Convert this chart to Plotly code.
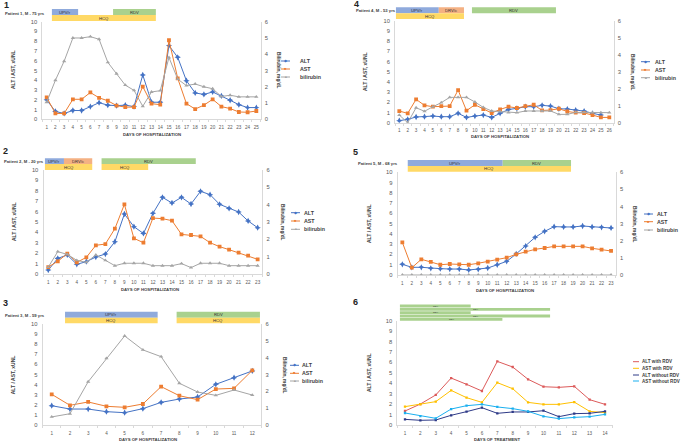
import plotly.graph_objects as go

W, H = 685, 445

# ---------------- data ----------------
series_names = ["ALT", "AST", "bilirubin"]

days1 = list(range(1, 26))
alt1 = [2.0, 0.8, 0.6, 0.9, 0.9, 1.3, 1.7, 1.45, 1.4, 1.45, 1.3, 4.55, 1.75, 1.75, 7.55,
        6.35, 3.95, 2.7, 2.55, 2.8, 2.4, 1.95, 1.5, 1.2, 1.2]
ast1 = [2.25, 0.6, 0.6, 2.05, 2.05, 2.75, 2.2, 1.9, 1.4, 1.25, 1.25, 3.35, 1.6, 1.5, 8.1,
        4.2, 1.6, 1.05, 1.45, 2.05, 1.3, 1.1, 0.75, 0.72, 0.85]
bili1 = [1.05, 2.4, 3.57, 5.0, 5.0, 5.08, 4.92, 3.5, 2.8, 2.1, 1.78, 0.8, 1.68, 1.76, 3.8,
         2.47, 2.07, 2.17, 2.0, 1.88, 1.4, 1.48, 1.38, 1.38, 1.38]
patient1 = "Patient 1, M - 75 yrs"
drug1 = ["UPV/r", "RDV", "HCQ"]
drug1_start = [1.6, 8.6, 1.6]
drug1_end = [4.6, 13.5, 13.5]

days2 = list(range(1, 24))
alt2 = [0.38, 1.5, 1.83, 0.93, 1.19, 1.63, 1.92, 3.1, 5.77, 4.55, 3.9, 5.83, 7.37, 6.83,
        7.37, 6.73, 7.95, 7.63, 6.7, 6.31, 5.96, 5.1, 4.45]
ast2 = [0.67, 1.22, 1.96, 1.12, 1.6, 2.76, 2.88, 4.36, 6.7, 3.43, 3.01, 5.38, 5.32, 5.13,
        3.81, 3.75, 3.62, 3.01, 2.63, 2.34, 2.05, 1.76, 1.41]
bili2 = [0.4, 1.29, 1.13, 0.79, 0.67, 1.1, 0.79, 0.48, 0.62, 0.62, 0.62, 0.48, 0.48, 0.48,
         0.6, 0.37, 0.62, 0.62, 0.62, 0.48, 0.48, 0.48, 0.48]
patient2 = "Patient 2, M - 20 yrs"
drug2 = ["UPV/r", "DRV/c", "RDV", "HCQ", "HCQ"]
drug2_start = [0.65, 2.65, 6.6, 0.65, 6.6]
drug2_end = [2.65, 5.62, 16.5, 5.62, 11.5]

days3 = list(range(1, 13))
alt3 = [1.91, 1.58, 1.58, 1.32, 1.22, 1.62, 2.24, 2.57, 2.77, 4.03, 4.69, 5.35]
ast3 = [3.04, 1.95, 2.28, 1.85, 1.75, 2.08, 3.8, 2.9, 2.51, 3.56, 3.63, 5.41]
bili3 = [0.48, 0.67, 2.57, 3.96, 5.29, 4.46, 4.06, 2.48, 1.96, 1.76, 2.08, 1.78]
patient3 = "Patient 3, M - 59 yrs"
drug3 = ["UPV/r", "RDV", "HCQ", "HCQ"]
drug3_start = [1.73, 7.85, 1.73, 7.85]
drug3_end = [6.81, 12.42, 6.81, 12.42]

days4 = list(range(1, 27))
alt4 = [0.2, 0.33, 0.56, 0.59, 0.65, 0.59, 0.59, 0.92, 0.52, 0.65, 0.75, 0.52, 0.92, 1.3,
        1.4, 1.57, 1.57, 1.7, 1.63, 1.37, 1.34, 1.24, 1.14, 0.92, 0.75, None]
ast4 = [1.14, 0.92, 2.29, 1.7, 1.57, 1.63, 1.63, 3.2, 1.18, 1.76, 1.34, 0.95, 1.3, 1.57,
        1.44, 1.63, 1.76, 1.2, 1.24, 1.37, 1.1, 0.98, 0.95, 0.75, 0.52, 0.52]
bili4 = [0.45, 0.0, 0.88, 0.67, 0.94, 1.18, 1.49, 1.49, 1.49, 1.22, 0.9, 0.69, 0.65, 0.59,
         0.59, 0.69, 0.69, 0.69, 0.69, 0.49, 0.49, 0.61, 0.61, 0.59, 0.59, 0.59]
patient4 = "Patient 4, M - 53 yrs"
drug4 = ["UPV/r", "DRV/c", "RDV", "HCQ"]
drug4_start = [0.6, 5.7, 9.65, 0.6]
drug4_end = [5.7, 8.7, 19.65, 8.7]

days5 = list(range(1, 24))
alt5 = [1.04, 0.75, 0.75, 0.65, 0.62, 0.58, 0.58, 0.49, 0.55, 0.68, 1.0, 1.33, 2.05, 2.82,
        3.67, 4.25, 4.71, 4.68, 4.68, 4.77, 4.68, 4.64, 4.58]
ast5 = [3.18, 0.71, 1.53, 1.27, 1.0, 1.07, 1.04, 1.0, 1.14, 1.3, 1.49, 1.69, 2.01, 2.27,
        2.5, 2.63, 2.79, 2.79, 2.79, 2.79, 2.6, 2.47, 2.34]
bili5 = [0.0] * 23
patient5 = "Patient 5, M - 68 yrs"
drug5 = ["UPV/r", "RDV", "HCQ"]
drug5_start = [1.57, 11.58, 1.57]
drug5_end = [11.58, 18.78, 18.78]

days6 = list(range(1, 15))
alt_rdv6 = [1.34, 2.01, 2.88, 4.5, 3.9, 3.26, 6.1, 5.56, 4.38, 3.67, 3.61, 3.71, 2.43, 1.98]
ast_rdv6 = [1.76, 1.98, 2.24, 3.32, 2.62, 2.17, 4.06, 3.48, 2.17, 1.98, 1.98, 2.2, 1.31, 1.18]
alt_no6 = [0.54, 0.45, 0.48, 0.93, 1.28, 1.66, 1.12, 1.25, 1.25, 1.37, 0.8, 1.09, 1.12, 1.31]
ast_no6 = [1.15, 0.86, 0.64, 1.53, 1.85, 1.98, 1.73, 1.57, 1.31, 0.83, 0.61, 0.73, 0.8, 1.02]
names6 = ["ALT with RDV", "AST with RDV", "ALT without RDV", "AST without RDV"]
rdv6_start = [0.67, 0.67, 0.67, 0.67, 0.67]
rdv6_end = [5.27, 10.43, 5.27, 10.43, 7.33]

# ---------------- styling ----------------
FONT = "Liberation Sans"
C_ALT, C_AST, C_BILI = "#4472C4", "#ED7D31", "#A5A5A5"
C6 = ["#DC5A5A", "#FFC000", "#2E3A87", "#1AAFEF"]
DRUG_COL = {"UPV/r": "#8FAADC", "DRV/c": "#F4B183", "RDV": "#A9D18E", "HCQ": "#FFD966"}
AXC = "#D9D9D9"
TXT = "#404040"


def fx(px):
    return px / W


def fy(py):
    return 1 - py / H


fig = go.Figure()
annotations = []
shapes = []
layout = {}


def ann(text, x, y, size, bold=False, xanchor="center", yanchor="middle", angle=0,
        color=TXT, xref="paper", yref="paper"):
    if bold:
        text = "<b>" + text + "</b>"
    annotations.append(dict(text=text, x=x, y=y, xref=xref, yref=yref, showarrow=False,
                            xanchor=xanchor, yanchor=yanchor, textangle=angle,
                            font=dict(size=size, color=color, family=FONT)))


panels = {
    1: dict(days=days1, ser=[alt1, ast1, bili1], pat=patient1, num="1",
            drugs=(drug1, drug1_start, drug1_end), x0=42.3, x1=260.7, yt=21.7, yb=119.3,
            rows=[(9, 15), (15, 21)], num_xy=(6, 5), pat_xy=(25, 13),
            ltitle=(13, 70), rtitle=(278, 70), xtitle=(152, 134),
            leg=(285, 298, [61, 69, 77])),
    4: dict(days=days4, ser=[alt4, ast4, bili4], pat=patient4, num="4",
            drugs=(drug4, drug4_start, drug4_end), x0=395.1, x1=613.5, yt=20.7, yb=122.7,
            rows=[(7.3, 13.3), (13.3, 19)], num_xy=(356, 4), pat_xy=(376, 10.7),
            ltitle=(365, 72), rtitle=(633, 72), xtitle=(500, 136.7),
            leg=(645, 653, [61.7, 70, 77.7])),
    2: dict(days=days2, ser=[alt2, ast2, bili2], pat=patient2, num="2",
            drugs=(drug2, drug2_start, drug2_end), x0=43.5, x1=262.4, yt=170, yb=274,
            rows=[(158.3, 164), (164, 170)], num_xy=(5, 151), pat_xy=(24, 161),
            ltitle=(14, 222), rtitle=(283, 222), xtitle=(150, 289.3),
            leg=(295, 302, [212.7, 221, 229.3])),
    5: dict(days=days5, ser=[alt5, ast5, bili5], pat=patient5, num="5",
            drugs=(drug5, drug5_start, drug5_end), x0=397.6, x1=615.8, yt=172.3, yb=275,
            rows=[(160, 166), (166, 171.7)], num_xy=(355, 152), pat_xy=(378, 164),
            ltitle=(369, 224), rtitle=(635, 224), xtitle=(505, 290),
            leg=(648, 655, [214, 221.7, 230])),
    3: dict(days=days3, ser=[alt3, ast3, bili3], pat=patient3, num="3",
            drugs=(drug3, drug3_start, drug3_end), x0=42.6, x1=261.4, yt=324, yb=425,
            rows=[(311.7, 317.7), (317.7, 323.3)], num_xy=(5, 303), pat_xy=(25, 315),
            ltitle=(13.3, 375), rtitle=(285, 375), xtitle=(148, 439),
            leg=(294, 300, [365.3, 373.3, 381])),
    6: dict(days=days6, ser=[alt_rdv6, ast_rdv6, alt_no6, ast_no6], pat=None, num="6",
            drugs=None, x0=397.3, x1=612.7, yt=320.7, yb=425,
            num_xy=(355, 302), ltitle=(369, 373), xtitle=(496.7, 439.7),
            leg=(633, 640, [361.7, 368.3, 375, 381])),
}

for k, p in panels.items():
    xa = "x" if k == 1 else f"x{k}"
    xkey = "xaxis" if k == 1 else f"xaxis{k}"
    yl_id, yr_id = 2 * k - 1, 2 * k
    yl = "y" if yl_id == 1 else f"y{yl_id}"
    ylkey = "yaxis" if yl_id == 1 else f"yaxis{yl_id}"
    yr = f"y{yr_id}"
    yrkey = f"yaxis{yr_id}"
    n = len(p["days"])
    xdom = [fx(p["x0"]), fx(p["x1"])]
    ydom = [fy(p["yb"]), fy(p["yt"])]

    layout[xkey] = dict(domain=xdom, range=[0.5, n + 0.5], anchor=yl, automargin=False,
                        tickvals=p["days"], ticktext=[str(d) for d in p["days"]],
                        tickfont=dict(size=4.6, color="#595959", family=FONT),
                        showline=True, linecolor=AXC, linewidth=1, showgrid=False,
                        zeroline=False, ticks="", fixedrange=True, ticklabelstandoff=3,
                        minor=dict(tickvals=[i + 0.5 for i in range(n + 1)],
                                   ticks="outside", ticklen=2, tickcolor=AXC,
                                   showgrid=False))
    layout[ylkey] = dict(domain=ydom, range=[0, 10], dtick=1, anchor=xa, automargin=False,
                         tickfont=dict(size=5.8, color="#595959", family=FONT),
                         showline=True, linecolor=AXC, showgrid=False, zeroline=False,
                         ticks="", ticklabelstandoff=3, fixedrange=True)

    if k != 6:
        layout[yrkey] = dict(domain=ydom, range=[0, 6], dtick=1, anchor=xa,
                             overlaying=yl, side="right", automargin=False,
                             tickfont=dict(size=5.8, color="#595959", family=FONT),
                             showline=True, linecolor=AXC, showgrid=False,
                             zeroline=False, ticks="", ticklabelstandoff=2,
                             fixedrange=True)
        cols = [C_ALT, C_AST, C_BILI]
        syms = ["star-diamond", "square", "triangle-up"]
        sizes = [4.5, 3.8, 3.8]
        for i, (vals, nm) in enumerate(zip(p["ser"], series_names)):
            fig.add_trace(go.Scatter(
                x=p["days"], y=vals, name=nm, mode="lines+markers",
                xaxis=xa, yaxis=(yr if i == 2 else yl),
                line=dict(color=cols[i], width=1.0),
                marker=dict(symbol=syms[i], size=sizes[i], color=cols[i],
                            line=dict(width=0)),
                connectgaps=False))
        # legend (manual, compact like Excel)
        lx, tx, rows = p["leg"]
        glyphs = ["◆", "■", "▲"]
        for i, nm in enumerate(series_names):
            yy = fy(rows[i])
            shapes.append(dict(type="line", xref="paper", yref="paper",
                               x0=fx(lx - 4), x1=fx(lx + 5), y0=yy, y1=yy,
                               line=dict(color=cols[i], width=1.0)))
            ann(f"<span style='color:{cols[i]}'>{glyphs[i]}</span>", fx(lx + 0.5), yy, 3.8)
            ann(nm, fx(tx), yy, 5.3, bold=True, xanchor="left")
        # drug bars
        names, starts, ends = p["drugs"]
        top_row, bot_row = p["rows"]
        for nm, s, e in zip(names, starts, ends):
            r = bot_row if nm == "HCQ" else top_row
            shapes.append(dict(type="rect", xref=xa, yref="paper", x0=s, x1=e,
                               y0=fy(r[1]), y1=fy(r[0]), fillcolor=DRUG_COL[nm],
                               line=dict(width=0), layer="below"))
            ann(nm, (s + e) / 2, fy((r[0] + r[1]) / 2), 4.2, xref=xa, color="#333333")
        ann(p["pat"], fx(p["pat_xy"][0]), fy(p["pat_xy"][1]), 4.2, bold=True)
        ann("Bilirubin, mg/dL", fx(p["rtitle"][0]), fy(p["rtitle"][1]), 4.8,
            bold=True, angle=90)
        ann("DAYS OF HOSPITALIZATION", fx(p["xtitle"][0]), fy(p["xtitle"][1]), 4.3,
            bold=True)
    else:
        for i, (vals, nm) in enumerate(zip(p["ser"], names6)):
            fig.add_trace(go.Scatter(
                x=p["days"], y=vals, name=nm, mode="lines+markers",
                xaxis=xa, yaxis=yl,
                line=dict(color=C6[i], width=1.0),
                marker=dict(symbol="square", size=2.3, color=C6[i])))
        lx, tx, rows = p["leg"]
        for i, nm in enumerate(names6):
            yy = fy(rows[i])
            shapes.append(dict(type="line", xref="paper", yref="paper",
                               x0=fx(lx), x1=fx(lx + 6), y0=yy, y1=yy,
                               line=dict(color=C6[i], width=1.0)))
            ann(nm, fx(tx), yy, 4.6, bold=True, xanchor="left")
        row_centers = [306, 309.3, 312.7, 316, 319.3]
        for j, (s, e) in enumerate(zip(rdv6_start, rdv6_end)):
            rc = row_centers[j]
            shapes.append(dict(type="rect", xref=xa, yref="paper", x0=s, x1=e,
                               y0=fy(rc + 1.4), y1=fy(rc - 1.4), fillcolor=DRUG_COL["RDV"],
                               line=dict(width=0), layer="below"))
            ann("RDV", (s + e) / 2, fy(rc), 2.4, xref=xa, color="#333333")
        ann("DAYS OF TREATMENT", fx(p["xtitle"][0]), fy(p["xtitle"][1]), 4.3, bold=True)

    ann(p["num"], fx(p["num_xy"][0]), fy(p["num_xy"][1]), 9, bold=True, color="#222222")
    ann("ALT / AST, xUNL", fx(p["ltitle"][0]), fy(p["ltitle"][1]), 5, bold=True,
        angle=-90)

fig.update_layout(
    width=W, height=H, margin=dict(l=0, r=0, t=0, b=0, autoexpand=False),
    paper_bgcolor="white", plot_bgcolor="rgba(0,0,0,0)",
    showlegend=False, annotations=annotations, shapes=shapes,
    font=dict(family=FONT, color=TXT), hovermode=False,
    **layout)

fig.write_html("out.html", config={"displayModeBar": False, "staticPlot": True},
               post_script="document.body.style.margin='0';"
                           "document.body.style.overflow='hidden';")
